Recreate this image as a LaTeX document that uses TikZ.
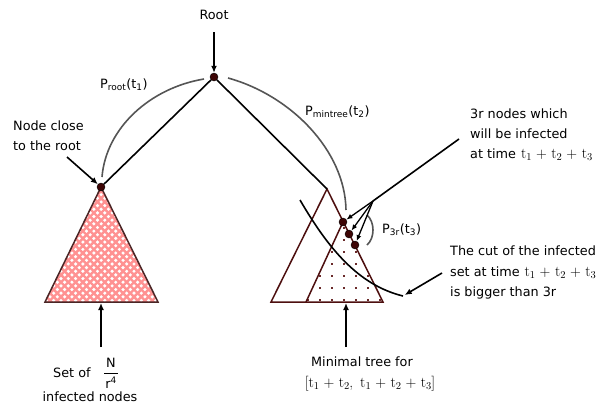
\documentclass[tikz,border=0pt]{standalone}
\usepackage{fontspec}
\setmainfont{DejaVu Sans}
\newfontfamily\lmrom{Latin Modern Roman}
\usetikzlibrary{arrows.meta}
\definecolor{dotc}{HTML}{3D0505}
\definecolor{ltri}{HTML}{4A2626}
\definecolor{rtri}{HTML}{4D0F0F}
\definecolor{pinkc}{HTML}{FF9292}
\definecolor{arcc}{HTML}{555555}
\definecolor{spk}{HTML}{6A2A2A}
\newcommand{\myplus}{\hspace{4.5pt}{\fontsize{15}{15}\selectfont+}\hspace{4.5pt}}
\newcommand{\tsub}[1]{t\raisebox{-2.8pt}{\fontsize{10.5}{10.5}\selectfont #1}}
\newcommand{\mathlm}[1]{{\lmrom\fontsize{15}{20.5}\selectfont #1}}
\begin{document}
\begin{tikzpicture}[x=1pt,y=-1pt,
  dot/.style={circle,fill=dotc,draw=black,line width=0.4pt,inner sep=0pt,minimum size=8pt},
  lbl/.style={font=\fontsize{12.8}{20.5}\selectfont,inner sep=0pt},
  edge/.style={line width=1.6pt,black},
  pathc/.style={line width=1.6pt,arcc},
  arr/.style={line width=1.6pt,-{Latex[length=7pt,width=6pt]}},
  sarr/.style={line width=1.3pt,-{Latex[length=6pt,width=5pt]}},
  tri/.style={line width=1.5pt,line join=miter}]
\useasboundingbox (0,0) rectangle (597,405);
\clip (0,0) rectangle (597,405);

% ---------- left triangle with crosshatch ----------
\begin{scope}
  \clip (101,187) -- (45,302) -- (158,302) -- cycle;
  \fill[white] (40,180) rectangle (165,310);
  \foreach \s in {-186,-178.7,...,186} {
    \draw[pinkc,line width=2.4pt] (101+\s,180) -- ++(140,140);
    \draw[pinkc,line width=2.4pt] (101+\s,180) -- ++(-140,140);
  }
\end{scope}
\draw[tri,draw=ltri] (101,187) -- (45,302) -- (158,302) -- cycle;

% ---------- right triangles ----------
\coordinate (apex) at (327,189);
\coordinate (bl) at (271,302);
\coordinate (br) at (383,302);
\coordinate (ib) at (306,302);
\begin{scope}
  \clip (343,222) -- (ib) -- (br) -- cycle;
  \foreach \x in {296,308,...,380} {
    \foreach \y in {228,240,...,300} {
      \fill[spk] (\x-0.9,\y-0.9) rectangle (\x+0.9,\y+0.9);
    }
  }
\end{scope}
\draw[tri,draw=rtri] (apex) -- (bl) -- (br) -- cycle;
\draw[tri,draw=rtri] (343,222) -- (ib);

% ---------- nodes (dots) ----------
\node[dot] (root) at (214,77) {};
\node[dot] (left) at (101,187) {};
\node[dot] (d1) at (343,222) {};
\node[dot] (d2) at (349,234) {};
\node[dot] (d3) at (355,245) {};

% ---------- tree edges ----------
\draw[edge] (root) -- (left);
\draw[edge] (root) -- (apex);

% ---------- gray path arcs ----------
\draw[pathc] (102,177) .. controls (106,128) and (150,88) .. (204,79);
\draw[pathc] (228,78) .. controls (290,95) and (345,150) .. (346,210);
\draw[pathc] (367,215) .. controls (375,222) and (375,238) .. (367,245);

% ---------- cut curve ----------
\coordinate (cutA) at (300,200);
\coordinate (cutB) at (403,296);
\draw[edge] (cutA) .. controls (328,248) and (358,285) .. (cutB);

% ---------- labels ----------
\node[lbl,anchor=base] (rootlbl) at (214,19) {Root};
\node[lbl,anchor=base west] (proot) at (100,88) {P\textsubscript{root}(t\textsubscript{1})};
\node[lbl,anchor=base west] (pmin) at (305,115) {P\textsubscript{mintree}(t\textsubscript{2})};
\node[lbl,anchor=base west] (p3r) at (382,233) {P\textsubscript{3r}(t\textsubscript{3})};
\node[lbl,anchor=base west] (nc1) at (13,130) {Node close};
\node[lbl,anchor=base west] (nc2) at (13,150) {to the root};
\node[lbl,anchor=base west] (r1) at (470,118) {3r nodes which};
\node[lbl,anchor=base west] (r2) at (470,138) {will be infected};
\node[lbl,anchor=base west] (r3) at (470,158) {at time\hspace{5pt}\mathlm{\tsub1\myplus\tsub2\myplus\tsub3}};
\node[lbl,anchor=base west] (c1) at (450,255) {The cut of the infected};
\node[lbl,anchor=base west] (c2) at (450,276) {set at time\hspace{5pt}\mathlm{\tsub1\myplus\tsub2\myplus\tsub3}};
\node[lbl,anchor=base west] (c3) at (450,296) {is bigger than 3r};
\node[lbl,anchor=base west] (s1) at (53,377) {Set of};
\node[lbl,anchor=base] (fn) at (111,367) {N};
\node[lbl,anchor=base] (fr) at (111,388) {r\textsuperscript{4}};
\draw[line width=0.9pt] (104,373) -- (118,373);
\node[lbl,anchor=base] (s2) at (90,401) {infected nodes};
\node[lbl,anchor=base] (m1) at (362,366) {Minimal tree for};
\node[lbl,anchor=base] (m2) at (370,387) {\mathlm{[\tsub1\myplus\tsub2,\hspace{7pt}\tsub1\myplus\tsub2\myplus\tsub3]}};

% ---------- arrows ----------
\coordinate (rootA) at (214,32);
\draw[arr] (rootA) -- (root);
\coordinate (ncA) at (67,157);
\draw[arr] (ncA) -- (left);
\coordinate (lbA) at (101,347);
\coordinate (lbB) at (101,303);
\draw[arr] (lbA) -- (lbB);
\coordinate (rbA) at (346,347);
\coordinate (rbB) at (346,303);
\draw[arr] (rbA) -- (rbB);
\coordinate (hubS) at (459,139);
\coordinate (hub) at (373,201);
\draw[edge] (hubS) -- (hub);
\draw[sarr] (hub) -- (d1);
\draw[sarr] (hub) -- (d2);
\draw[sarr] (hub) -- (d3);
\coordinate (cutS) at (442,273);
\draw[arr,shorten >=2pt] (cutS) -- (cutB);
\end{tikzpicture}
\end{document}
